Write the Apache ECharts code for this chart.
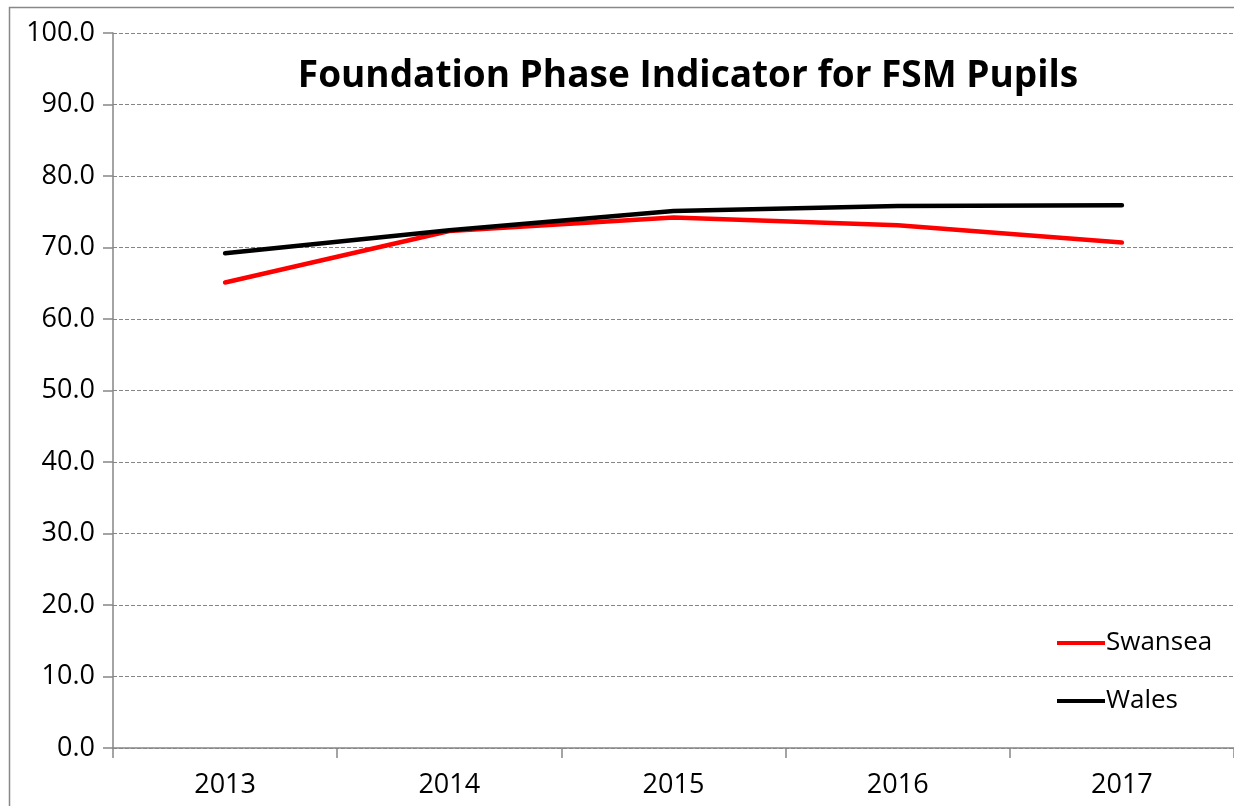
<!DOCTYPE html>
<html>
<head>
<meta charset="utf-8">
<script src="https://cdn.jsdelivr.net/npm/echarts@6/dist/echarts.min.js"></script>
<style>
  html, body { margin: 0; padding: 0; background: #fff; }
  #main { width: 1234px; height: 806px; }
</style>
</head>
<body>
<div id="main"></div>
<script>
  var years = ['2013', '2014', '2015', '2016', '2017'];
  var swansea = [65.1, 72.3, 74.2, 73.1, 70.7];
  var wales = [69.2, 72.4, 75.1, 75.8, 75.9];

  var chart = echarts.init(document.getElementById('main'));
  var font = 'Open Sans, Noto Sans, sans-serif';

  var option = {
    animation: false,
    backgroundColor: '#fff',
    textStyle: { fontFamily: font },
    title: {
      text: 'Foundation Phase Indicator for FSM Pupils',
      left: 683,
      textAlign: 'center',
      top: 53,
      textStyle: { fontSize: 37, fontWeight: 'bold', color: '#000', fontFamily: font }
    },
    graphic: [{
      type: 'rect',
      shape: { x: 9.5, y: 7.5, width: 1300, height: 900 },
      style: { fill: null, stroke: '#888', lineWidth: 1.5 },
      silent: true
    }],
    legend: {
      orient: 'vertical',
      left: 1052,
      top: 625,
      itemWidth: 48,
      itemHeight: 4,
      itemGap: 32,
      icon: 'rect',
      textStyle: { fontSize: 26, color: '#000', padding: [0, 0, 0, -4] },
      data: ['Swansea', 'Wales']
    },
    grid: { left: 113, right: -19, top: 33, bottom: 58, containLabel: false },
    xAxis: {
      type: 'category',
      data: years,
      boundaryGap: true,
      axisLine: { lineStyle: { color: '#868686', width: 1.5 } },
      axisTick: { show: true, length: 10, lineStyle: { color: '#868686', width: 1.5 } },
      axisLabel: { fontSize: 27, color: '#000', margin: 24 },
      splitLine: { show: false }
    },
    yAxis: {
      type: 'value',
      min: 0,
      max: 100,
      interval: 10,
      axisLine: { show: true, lineStyle: { color: '#868686', width: 1.5 } },
      axisTick: { show: true, length: 10, lineStyle: { color: '#868686', width: 1.5 } },
      axisLabel: {
        fontSize: 27, color: '#000', margin: 18,
        formatter: function (v) { return v.toFixed(1); }
      },
      splitLine: { show: true, lineStyle: { color: '#858585', type: [4, 2], width: 1 } }
    },
    series: [
      {
        name: 'Swansea',
        type: 'line',
        data: swansea,
        showSymbol: false,
        symbol: 'none',
        itemStyle: { color: '#ff0000' },
        lineStyle: { color: '#ff0000', width: 4.5, cap: 'round' }
      },
      {
        name: 'Wales',
        type: 'line',
        data: wales,
        showSymbol: false,
        symbol: 'none',
        itemStyle: { color: '#000000' },
        lineStyle: { color: '#000000', width: 4.5, cap: 'round' }
      }
    ]
  };

  chart.setOption(option);
</script>
</body>
</html>
